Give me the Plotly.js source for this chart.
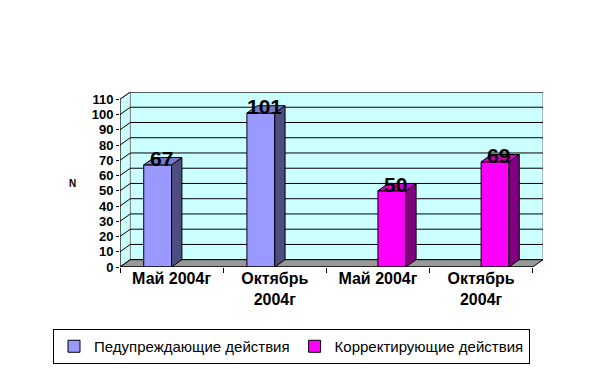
<!DOCTYPE html>
<html>
<head>
<meta charset="utf-8">
<script src="https://cdn.plot.ly/plotly-3.0.1.min.js"></script>
<style>html,body{margin:0;padding:0;background:#fff;}#chart{width:599px;height:369px;}</style>
</head>
<body>
<div id="chart"></div>
<script>
// ---- data ----
const categories = ['Май 2004г', 'Октябрь 2004г', 'Май 2004г', 'Октябрь 2004г'];
const tickLabels = ['Май 2004г', 'Октябрь<br>2004г', 'Май 2004г', 'Октябрь<br>2004г'];
const seriesNames = ['Педупреждающие действия', 'Корректирующие действия'];
const preventive = [67, 101, null, null];
const corrective = [null, null, 50, 69];
const yTicks = [0, 10, 20, 30, 40, 50, 60, 70, 80, 90, 100, 110];
const yAxisTitle = 'N';

// ---- style / geometry ----
const FONT = '"Liberation Sans", Arial, sans-serif';
const DX = 0.1;     // depth in category units
const DY = 4.8;     // depth in value units
const YMAX = 110;
const BW = 0.27;    // bar width
const series = [
  {name: seriesNames[0], values: preventive, offset: -BW, front: '#9999ff', side: '#4d4d80', top: '#7a7acc'},
  {name: seriesNames[1], values: corrective, offset: 0, front: '#ff00ff', side: '#800080', top: '#cc00cc'}
];
const xs = categories.map((c, i) => i);
const xMin = -0.5, xMax = categories.length - 0.5;

const traces = [];
const annotations = [];
series.forEach(s => {
  traces.push({
    type: 'bar', name: s.name, x: xs, y: s.values, width: BW, offset: s.offset,
    marker: {color: s.front, line: {color: '#000', width: 1}},
    hoverinfo: 'skip'
  });
});
series.forEach(s => {
  s.values.forEach((v, i) => {
    if (v === null) return;
    const x0 = i + s.offset, x1 = x0 + BW;
    traces.push({
      type: 'scatter', mode: 'lines', fill: 'toself', fillcolor: s.side,
      x: [x1, x1 + DX, x1 + DX, x1, x1], y: [0, DY, v + DY, v, 0],
      line: {color: '#000', width: 1}, showlegend: false, hoverinfo: 'skip'
    });
    traces.push({
      type: 'scatter', mode: 'lines', fill: 'toself', fillcolor: s.top,
      x: [x0, x1, x1 + DX, x0 + DX, x0], y: [v, v, v + DY, v + DY, v],
      line: {color: '#000', width: 1}, showlegend: false, hoverinfo: 'skip'
    });
    annotations.push({
      x: x0 + BW / 2 + DX / 3, y: v, xref: 'x', yref: 'y', text: String(v),
      showarrow: false, yanchor: 'bottom', yshift: -7,
      font: {family: FONT, size: 21, color: '#000', weight: 'bold'}
    });
  });
});

annotations.push({
  x: (72 - 120) / 423, y: (267 - 183) / 175, xref: 'paper', yref: 'paper', text: yAxisTitle, showarrow: false,
  xanchor: 'center', yanchor: 'middle',
  font: {family: FONT, size: 10, color: '#000', weight: 'bold'}
});

const shapes = [];
// back wall
shapes.push({type: 'rect', xref: 'x', yref: 'y', x0: xMin + DX, x1: xMax + DX, y0: DY, y1: YMAX + DY,
  fillcolor: '#ccffff', line: {color: '#808080', width: 1}, layer: 'below'});
// left wall
shapes.push({type: 'path', xref: 'x', yref: 'y',
  path: `M ${xMin},0 L ${xMin + DX},${DY} L ${xMin + DX},${YMAX + DY} L ${xMin},${YMAX} Z`,
  fillcolor: '#ccffff', line: {color: '#808080', width: 1}, layer: 'below'});
// gridlines
yTicks.forEach(t => {
  shapes.push({type: 'line', xref: 'x', yref: 'y', x0: xMin + DX, x1: xMax + DX, y0: t + DY, y1: t + DY,
    line: {color: '#000', width: 1}, layer: 'below'});
  shapes.push({type: 'line', xref: 'x', yref: 'y', x0: xMin, x1: xMin + DX, y0: t, y1: t + DY,
    line: {color: '#000', width: 1}, layer: 'below'});
});
// floor
shapes.push({type: 'path', xref: 'x', yref: 'y',
  path: `M ${xMin},0 L ${xMax},0 L ${xMax + DX},${DY} L ${xMin + DX},${DY} Z`,
  fillcolor: '#999999', line: {color: '#000', width: 1}, layer: 'below'});
// axis lines
shapes.push({type: 'line', xref: 'x', yref: 'y', x0: xMin, x1: xMin, y0: 0, y1: YMAX,
  line: {color: '#000', width: 1}, layer: 'above'});
shapes.push({type: 'line', xref: 'x', yref: 'y', x0: xMin, x1: xMax, y0: 0, y1: 0,
  line: {color: '#000', width: 1}, layer: 'above'});

const layout = {
  width: 599, height: 369,
  margin: {l: 120, r: 56, t: 92, b: 102, autoexpand: false},
  paper_bgcolor: '#fff', plot_bgcolor: 'rgba(0,0,0,0)',
  barmode: 'overlay',
  showlegend: true,
  font: {family: FONT, color: '#000'},
  xaxis: {
    range: [xMin, xMax + DX], showgrid: false, zeroline: false, showline: false,
    tickmode: 'array', tickvals: xs, ticktext: tickLabels, ticks: '',
    tickfont: {family: FONT, size: 16, color: '#000', weight: 'bold'},
    minor: {tickmode: 'array', tickvals: [-0.5, 0.5, 1.5, 2.5, 3.5], ticks: 'outside', ticklen: 5, tickcolor: '#000', tickwidth: 1, showgrid: false},
    fixedrange: true
  },
  yaxis: {
    range: [0, YMAX + DY], showgrid: false, zeroline: false, showline: false,
    tickmode: 'array', tickvals: yTicks, ticks: 'outside', ticklen: 3, tickcolor: '#000',
    tickfont: {family: FONT, size: 13, color: '#000', weight: 'bold'},
    fixedrange: true
  },
  legend: {
    orientation: 'h', xref: 'paper', yref: 'paper',
    x: (53 - 120) / 423, xanchor: 'left', y: (267 - 329) / 175, yanchor: 'top',
    bordercolor: '#000', borderwidth: 1, bgcolor: '#fff',
    font: {family: FONT, size: 15, color: '#000'}, itemwidth: 30, traceorder: 'normal'
  },
  shapes: shapes,
  annotations: annotations
};

Plotly.newPlot('chart', traces, layout, {displayModeBar: false, staticPlot: true});
</script>
</body>
</html>
